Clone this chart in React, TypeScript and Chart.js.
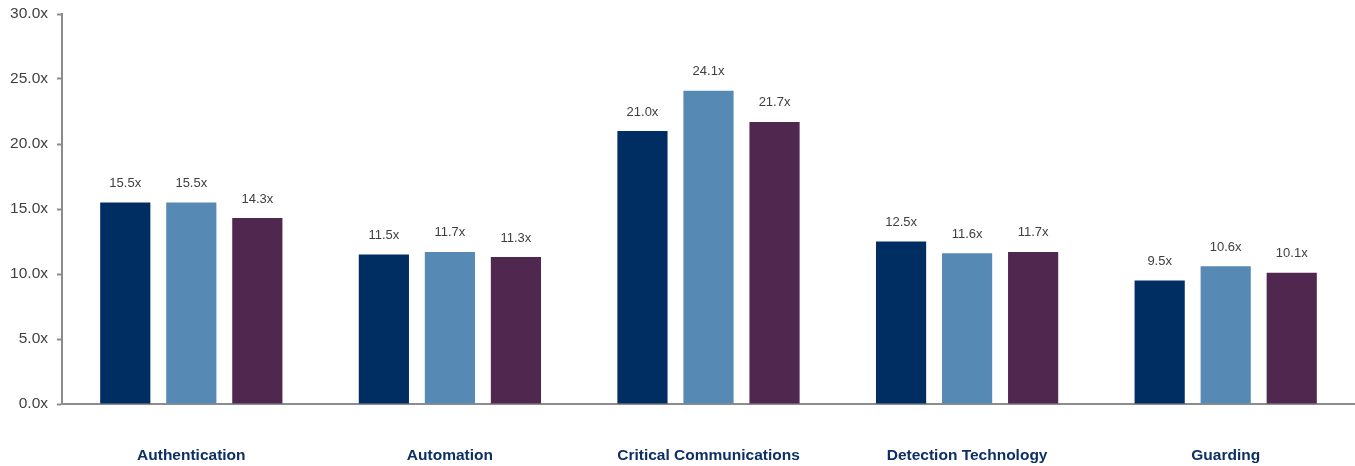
import React, { useEffect, useRef } from "react";
import { Chart, registerables } from "chart.js";

Chart.register(...registerables);

const categories = ["Authentication", "Automation", "Critical Communications", "Detection Technology", "Guarding"];
const seriesA = [15.5, 11.5, 21.0, 12.5, 9.5];
const seriesB = [15.5, 11.7, 24.1, 11.6, 10.6];
const seriesC = [14.3, 11.3, 21.7, 11.7, 10.1];
const seriesNames = ["Series 1", "Series 2", "Series 3"];
const seriesColors = ["#002D62", "#5789B5", "#50284F"];

const valueLabels = {
  id: "valueLabels",
  afterDatasetsDraw(chart: any) {
    const ctx = chart.ctx;
    ctx.save();
    ctx.font = "13px 'Liberation Sans', Arial, sans-serif";
    ctx.fillStyle = "#404040";
    ctx.textAlign = "center";
    ctx.textBaseline = "middle";
    chart.data.datasets.forEach((ds: any, i: number) => {
      const meta = chart.getDatasetMeta(i);
      meta.data.forEach((bar: any, j: number) => {
        ctx.fillText(ds.data[j].toFixed(1) + "x", bar.x, bar.y - 19);
      });
    });
    ctx.restore();
  },
};

export default function App() {
  const ref = useRef<HTMLCanvasElement>(null);
  useEffect(() => {
    if (!ref.current) return;
    const chart = new Chart(ref.current, {
      type: "bar",
      data: {
        labels: categories,
        datasets: [seriesA, seriesB, seriesC].map((d, i) => ({
          label: seriesNames[i],
          data: d,
          backgroundColor: seriesColors[i],
          barPercentage: 0.76,
          categoryPercentage: 0.766,
        })),
      },
      options: {
        responsive: false,
        animation: false,
        layout: { padding: { top: 14, right: 0, left: 0, bottom: 0 } },
        plugins: { legend: { display: false }, tooltip: { enabled: false } },
        scales: {
          x: {
            afterFit: (s: any) => { s.height = 62; },
            grid: { display: false, drawTicks: false },
            border: { display: true, color: "#8c8c8c", width: 2 },
            ticks: {
              padding: 42,
              color: "#0D2F63",
              font: { family: "'Liberation Sans', Arial, sans-serif", size: 15.5, weight: "bold" },
              maxRotation: 0,
            },
          },
          y: {
            min: 0,
            max: 30,
            afterFit: (s: any) => { s.width = 62; s.paddingTop = 0; s.paddingBottom = 0; },
            grid: { drawOnChartArea: false, drawTicks: true, tickLength: 5, tickColor: "#8c8c8c", tickWidth: 2 },
            border: { display: true, color: "#8c8c8c", width: 2 },
            ticks: {
              stepSize: 5,
              padding: 9,
              color: "#404040",
              font: { family: "'Liberation Sans', Arial, sans-serif", size: 15.5 },
              callback: (v: any) => Number(v).toFixed(1) + "x",
            },
          },
        },
      },
      plugins: [valueLabels],
    });
    return () => chart.destroy();
  }, []);
  return (
    <div style={{ position: "absolute", left: 0, top: 0, width: 1355, height: 466, background: "#fff" }}>
      <canvas ref={ref} width={1355} height={466} style={{ width: 1355, height: 466, display: "block" }} />
    </div>
  );
}
